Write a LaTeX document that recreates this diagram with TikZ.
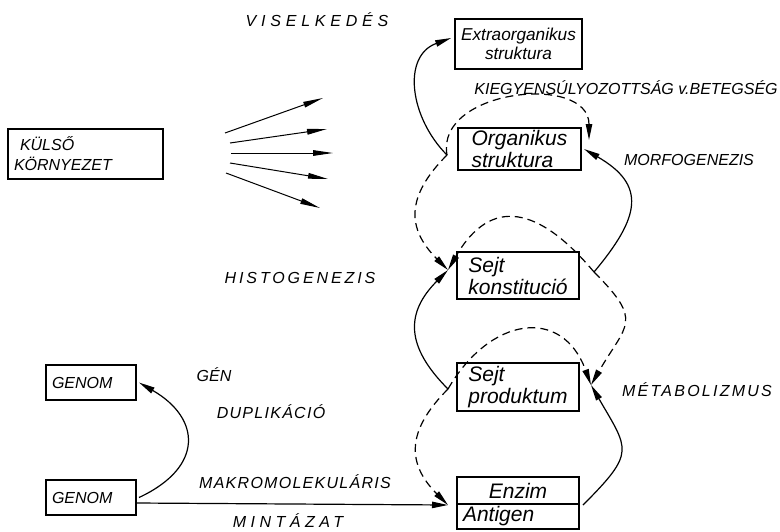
\documentclass[tikz,border=0pt]{standalone}
\usepackage{fontspec}
\setmainfont{Liberation Sans}
\usetikzlibrary{positioning,arrows.meta,calc}

\begin{document}
\begin{tikzpicture}[x=0.5pt,y=0.5pt,
    box/.style={draw,line width=1pt,inner xsep=3pt,inner ysep=1pt,align=left,
                font=\fontsize{10.5}{11}\selectfont\itshape},
    capbox/.style={box,font=\fontsize{8}{10}\selectfont\itshape},
    lbl/.style={inner sep=0pt,font=\fontsize{8}{9}\selectfont\itshape\addfontfeatures{LetterSpace=#1}},
    lbl/.default=0,
    conn/.style={line width=0.6pt,-{Triangle[length=8pt,width=3.2pt]}},
    back/.style={conn,dash pattern=on 4pt off 2.5pt},
    fan/.style={line width=0.5pt,-{Triangle[length=10pt,width=2.8pt]}}]
\useasboundingbox (0,0) rectangle (780,-531);

% boxes
\node[box,minimum width=60.5pt,minimum height=25pt,align=center,
      font=\fontsize{8.6}{9.5}\selectfont\itshape] (extra) at (518.5,-43.5) {Extraorganikus\\struktura};
\node[box,minimum width=61.5pt,minimum height=18pt] (organ) at (519.5,-149) {Organikus\\struktura};
\node[box,minimum width=61pt,minimum height=23.5pt] (konst) at (518,-275.5) {Sejt\\konstitució};
\node[box,minimum width=61pt,minimum height=24pt] (produkt) at (518,-387) {Sejt\\produktum};
\node[box,minimum width=61pt,minimum height=13.5pt,align=center] (enzim) at (518,-490.5) {Enzim};
\node[box,minimum width=61pt,minimum height=12.5pt,text width=55pt] (antigen) at (518,-516.5) {Antigen};
\node[capbox,text width=71.5pt,minimum height=25pt] (kulso) at (85.5,-154) {\hspace{3pt}KÜLSŐ\\KÖRNYEZET};
\node[capbox,text width=39pt,minimum height=17.5pt] (genom1) at (91,-382.5) {GENOM};
\node[capbox,text width=39pt,minimum height=17.5pt] (genom2) at (91,-497.5) {GENOM};

% labels
\node[lbl=30] (lvis) at (317,-20) {VISELKEDÉS};
\node[lbl] (lkieg) at (626,-88) {KIEGYENSÚLYOZOTTSÁG v.BETEGSÉG};
\node[lbl] (lmorf) at (689,-160) {MORFOGENEZIS};
\node[lbl=18] (lhist) at (300,-278) {HISTOGENEZIS};
\node[lbl] (lgen) at (214,-375) {GÉN};
\node[lbl=8] (ldup) at (271,-412) {DUPLIKÁCIÓ};
\node[lbl=8] (lmakro) at (295,-482) {MAKROMOLEKULÁRIS};
\node[lbl=28] (lmint) at (288,-521) {MINTÁZAT};
\node[lbl=14] (lmeta) at (697,-390) {MÉTABOLIZMUS};

% meeting points beside the boxes
\coordinate (ol) at ([xshift=-5pt,yshift=-3pt]organ.west);
\coordinate (kl) at ([xshift=-4pt,yshift=2.75pt]konst.west);
\coordinate (kr) at ([xshift=7pt,yshift=1.75pt]konst.east);
\coordinate (pl) at ([xshift=-4pt,yshift=-1pt]produkt.west);
\coordinate (pr) at ([xshift=5.5pt,yshift=1pt]produkt.east);
\coordinate (el) at ([xshift=-4pt]enzim.south west);

% fan of arrows
\foreach \i/\a/\b/\c/\d in {1/225/133/323/98,2/230/143/327/129,3/231/153/333/153,4/230/163/328/179,5/226/173/320/208}{
  \coordinate (f\i) at (\a,-\b);
  \coordinate (g\i) at (\c,-\d);
  \draw[fan] (f\i) -- (g\i);
}

% solid connectors
\draw[conn] (ol) to[out=135,in=200,looseness=1.15] ([xshift=-1.5pt,yshift=2.75pt]extra.west);
\draw[conn] (kr) to[out=50,in=-30,looseness=1.5] ([xshift=1pt]organ.east);
\draw[conn] (pl) to[out=135,in=225,looseness=1.3] (kl);
\draw[conn] ([xshift=1.5pt]enzim.south east) to[out=45,in=-60,looseness=1.6] (pr);
\draw[conn] ([yshift=-2.75pt]genom2.east) -- (el);
\draw[conn] ([xshift=1pt]genom2.east) to[out=25,in=-30,looseness=1.6] ([xshift=1pt]genom1.east);

% dashed connectors
\draw[back] (ol) to[out=100,in=90,looseness=1.2] ([xshift=3.5pt,yshift=4.5pt]organ.east);
\draw[back] (ol) to[out=225,in=135,looseness=1.3] (kl);
\draw[back] (kr) to[out=130,in=60,looseness=1.5] (kl);
\draw[back] (kr) to[out=-45,in=60,looseness=1.6] (pr);
\draw[back] (pl) to[out=60,in=110,looseness=1.5] (pr);
\draw[back] (pl) to[out=225,in=135,looseness=1.3] (el);
\end{tikzpicture}
\end{document}
